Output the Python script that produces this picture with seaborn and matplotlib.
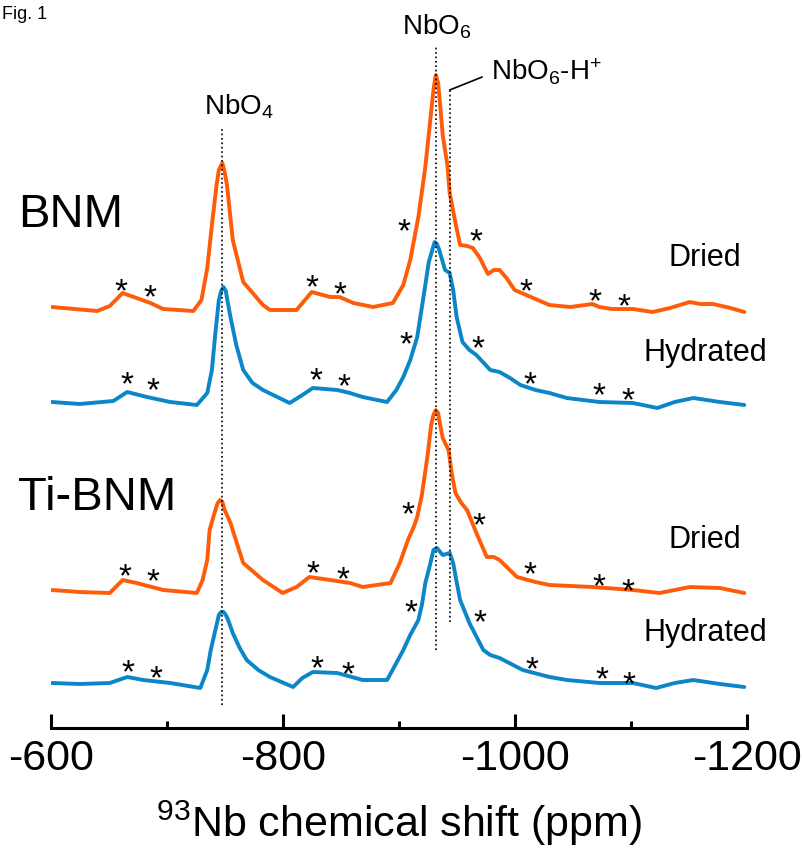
import numpy as np
import pandas as pd
import matplotlib
matplotlib.use("Agg")
import matplotlib.pyplot as plt
import seaborn as sns

# ---- data (ppm, intensity above each baseline) ----
bnm_dried_ppm = [-601, -640, -651, -662, -674, -686, -697, -723, -730, -735, -739, -743, -745, -748, -750, -752, -757,
                 -766, -783, -789, -812, -825, -841, -849, -861, -878, -895, -904, -910, -917, -923, -928,
                 -930, -932, -934, -935, -938, -942, -944, -949, -953, -959, -964, -970, -977, -982, -987, -993, -1000,
                 -1016, -1030, -1048, -1067, -1073, -1084, -1102, -1119, -1134, -1151, -1160, -1171, -1186, -1198]
bnm_dried_int = [1, -3, 2, 15, 10, 5, -1, -3, 8, 40, 83, 123, 138, 145, 136, 123, 68,
                 26, 3, -2, -2, 16, 11, 11, 5, 1, 5, 23, 48, 91, 141, 196,
                 218, 233, 225, 213, 173, 143, 115, 85, 63, 62, 60, 50, 34, 38, 38, 30, 18,
                 10, 3, 1, 4, 1, -1, -1, -4, 0, 6, 4, 4, 0, -4]

bnm_hyd_ppm = [-601, -625, -654, -666, -683, -703, -726, -735, -739, -742, -745, -747, -749, -751, -752, -755, -760,
               -766, -774, -783, -806, -817, -826, -847, -858, -869, -890, -898, -904, -910, -916, -921,
               -926, -929, -931, -933, -935, -940, -944, -947, -950, -955, -961, -967, -979, -987, -996, -1005, -1018,
               -1030, -1045, -1073, -1102, -1123, -1138, -1154, -1177, -1198]
bnm_hyd_int = [1, -1, 2, 11, 6, 1, -2, 10, 33, 70, 103, 112, 116, 112, 105, 86, 58,
               33, 20, 13, 0, 8, 15, 13, 10, 6, 1, 13, 26, 43, 66, 103,
               141, 153, 161, 159, 153, 133, 130, 113, 86, 61, 53, 48, 33, 31, 25, 18, 13,
               10, 5, 1, 0, -5, 1, 5, 1, -2]

ti_dried_ppm = [-601, -625, -651, -662, -674, -697, -726, -731, -735, -737, -742, -744, -746, -748, -750, -755, -761,
                -766, -783, -800, -812, -823, -841, -858, -869, -893, -901, -908, -913, -916, -920, -925,
                -928, -930, -932, -934, -935, -938, -943, -946, -949, -954, -959, -967, -976, -982, -987, -1002, -1018,
                -1030, -1067, -1102, -1125, -1151, -1177, -1198]
ti_dried_int = [0, -2, -3, 10, 7, 0, -3, 10, 30, 60, 80, 87, 90, 88, 80, 67, 45,
                27, 10, -3, 3, 13, 10, 7, 3, 7, 27, 50, 63, 73, 95, 135,
                165, 175, 180, 177, 170, 152, 140, 115, 97, 87, 80, 57, 33, 33, 30, 13, 8,
                5, 3, 0, -3, 3, 2, -3]

ti_hyd_ppm = [-601, -625, -651, -666, -680, -703, -729, -735, -738, -742, -745, -747, -749, -751, -753, -757, -763,
              -769, -779, -789, -809, -817, -826, -847, -869, -890, -898, -904, -910, -917, -920, -923,
              -927, -930, -933, -938, -944, -947, -950, -953, -961, -973, -979, -987, -1007, -1030, -1045,
              -1073, -1102, -1122, -1138, -1154, -1177, -1198]
ti_hyd_int = [0, -1, 0, 6, 3, 0, -5, 13, 33, 53, 68, 71, 71, 68, 63, 50, 35,
              23, 13, 6, -4, 5, 11, 10, 3, 3, 20, 33, 48, 63, 78, 100,
              118, 133, 135, 128, 130, 120, 101, 83, 60, 33, 28, 25, 13, 6, 3,
              0, 0, -5, 0, 3, -1, -4]

offsets = [420, 325, 138, 45]
sample_names = ["Dried", "Hydrated", "Dried", "Hydrated"]
trace_colors = ["#FF5C0A", "#0B86C9", "#FF5C0A", "#0B86C9"]

# spinning sideband asterisks (ppm, intensity above baseline) per trace
star_ppm = [[-661, -686, -825, -849, -905, -967, -1010, -1069, -1094],
            [-666, -688, -829, -853, -906, -968, -1013, -1073, -1098],
            [-664, -688, -826, -852, -908, -969, -1013, -1073, -1098],
            [-667, -691, -830, -856, -911, -970, -1015, -1075, -1099]]
star_int = [[26, 20, 30, 23, 86, 76, 26, 16, 11],
            [28, 22, 32, 26, 68, 64, 28, 17, 12],
            [23, 18, 26, 20, 85, 74, 25, 13, 8],
            [20, 14, 24, 18, 80, 70, 23, 13, 8]]

site_ppm = [-748, -932, -944]

traces = [(bnm_dried_ppm, bnm_dried_int), (bnm_hyd_ppm, bnm_hyd_int),
          (ti_dried_ppm, ti_dried_int), (ti_hyd_ppm, ti_hyd_int)]

sns.set_theme(style="white")
plt.rcParams['font.family'] = ['Liberation Sans', 'DejaVu Sans']
plt.rcParams['mathtext.fontset'] = 'custom'
plt.rcParams['mathtext.rm'] = 'Liberation Sans'
plt.rcParams['mathtext.it'] = 'Liberation Sans:italic'
plt.rcParams['text.color'] = 'black'
plt.rcParams['axes.labelcolor'] = 'black'
plt.rcParams['xtick.color'] = 'black'

fig = plt.figure(figsize=(8.03, 8.59), dpi=100)
ax = fig.add_axes([0.0631, 0.1525, 0.8667, 0.8475])

for i, (ppm, inten) in enumerate(traces):
    df = pd.DataFrame({'ppm': ppm, 'y': np.array(inten) + offsets[i]})
    sns.lineplot(data=df, x='ppm', y='y', color=trace_colors[i], lw=2.8, ax=ax, sort=False)
    for sp, si in zip(star_ppm[i], star_int[i]):
        ax.annotate('*', (sp, si + offsets[i]), xytext=(0, -14), textcoords='offset points',
                    ha='center', va='baseline', fontsize=24, color='black')
    ax.text(-1164, offsets[i] + 50, sample_names[i], ha='center', va='center', fontsize=22)

# reference lines for the Nb sites
ax.plot([site_ppm[0]] * 2, [23, 600], ls=':', color='black', lw=1.2)
ax.plot([site_ppm[1]] * 2, [78, 683], ls=':', color='black', lw=1.2)
ax.plot([site_ppm[2]] * 2, [106, 638], ls=':', color='black', lw=1.2)
ax.plot([site_ppm[2], -972], [638, 651], color='black', lw=1.2)

ax.text(-762, 621, 'NbO$_4$', ha='center', va='center', fontsize=20)
ax.text(-933, 701, 'NbO$_6$', ha='center', va='center', fontsize=20)
ax.text(-980, 656, 'NbO$_6$-H$^{+}$', ha='left', va='center', fontsize=20)

ax.text(-572, 513, 'BNM', ha='left', va='center', fontsize=34)
ax.text(-572, 230, 'Ti-BNM', ha='left', va='center', fontsize=34)

ax.set_xlim(-600, -1200)
ax.set_ylim(0, 728)
ax.set_xticks([-600, -800, -1000, -1200])
ax.set_xticks([-700, -900, -1100], minor=True)
ax.set_xticklabels(['-600', '-800', '-1000', '-1200'])
ax.tick_params(axis='x', which='major', direction='in', length=10, width=2.2, pad=8,
               labelsize=31, bottom=True, color='black', labelcolor='black')
ax.tick_params(axis='x', which='minor', direction='in', length=5, width=2.2, bottom=True, color='black')
ax.set_yticks([])
ax.set_ylabel('')
ax.set_xlabel('$^{93}$Nb chemical shift (ppm)', fontsize=31, labelpad=14, color='black')
for side in ['top', 'left', 'right']:
    ax.spines[side].set_visible(False)
ax.spines['bottom'].set_linewidth(2.2)
ax.spines['bottom'].set_color('black')
ax.patch.set_alpha(0)

fig.text(0.003, 0.978, 'Fig. 1', fontsize=13, ha='left', va='baseline')

fig.savefig('out.png', dpi=100)
